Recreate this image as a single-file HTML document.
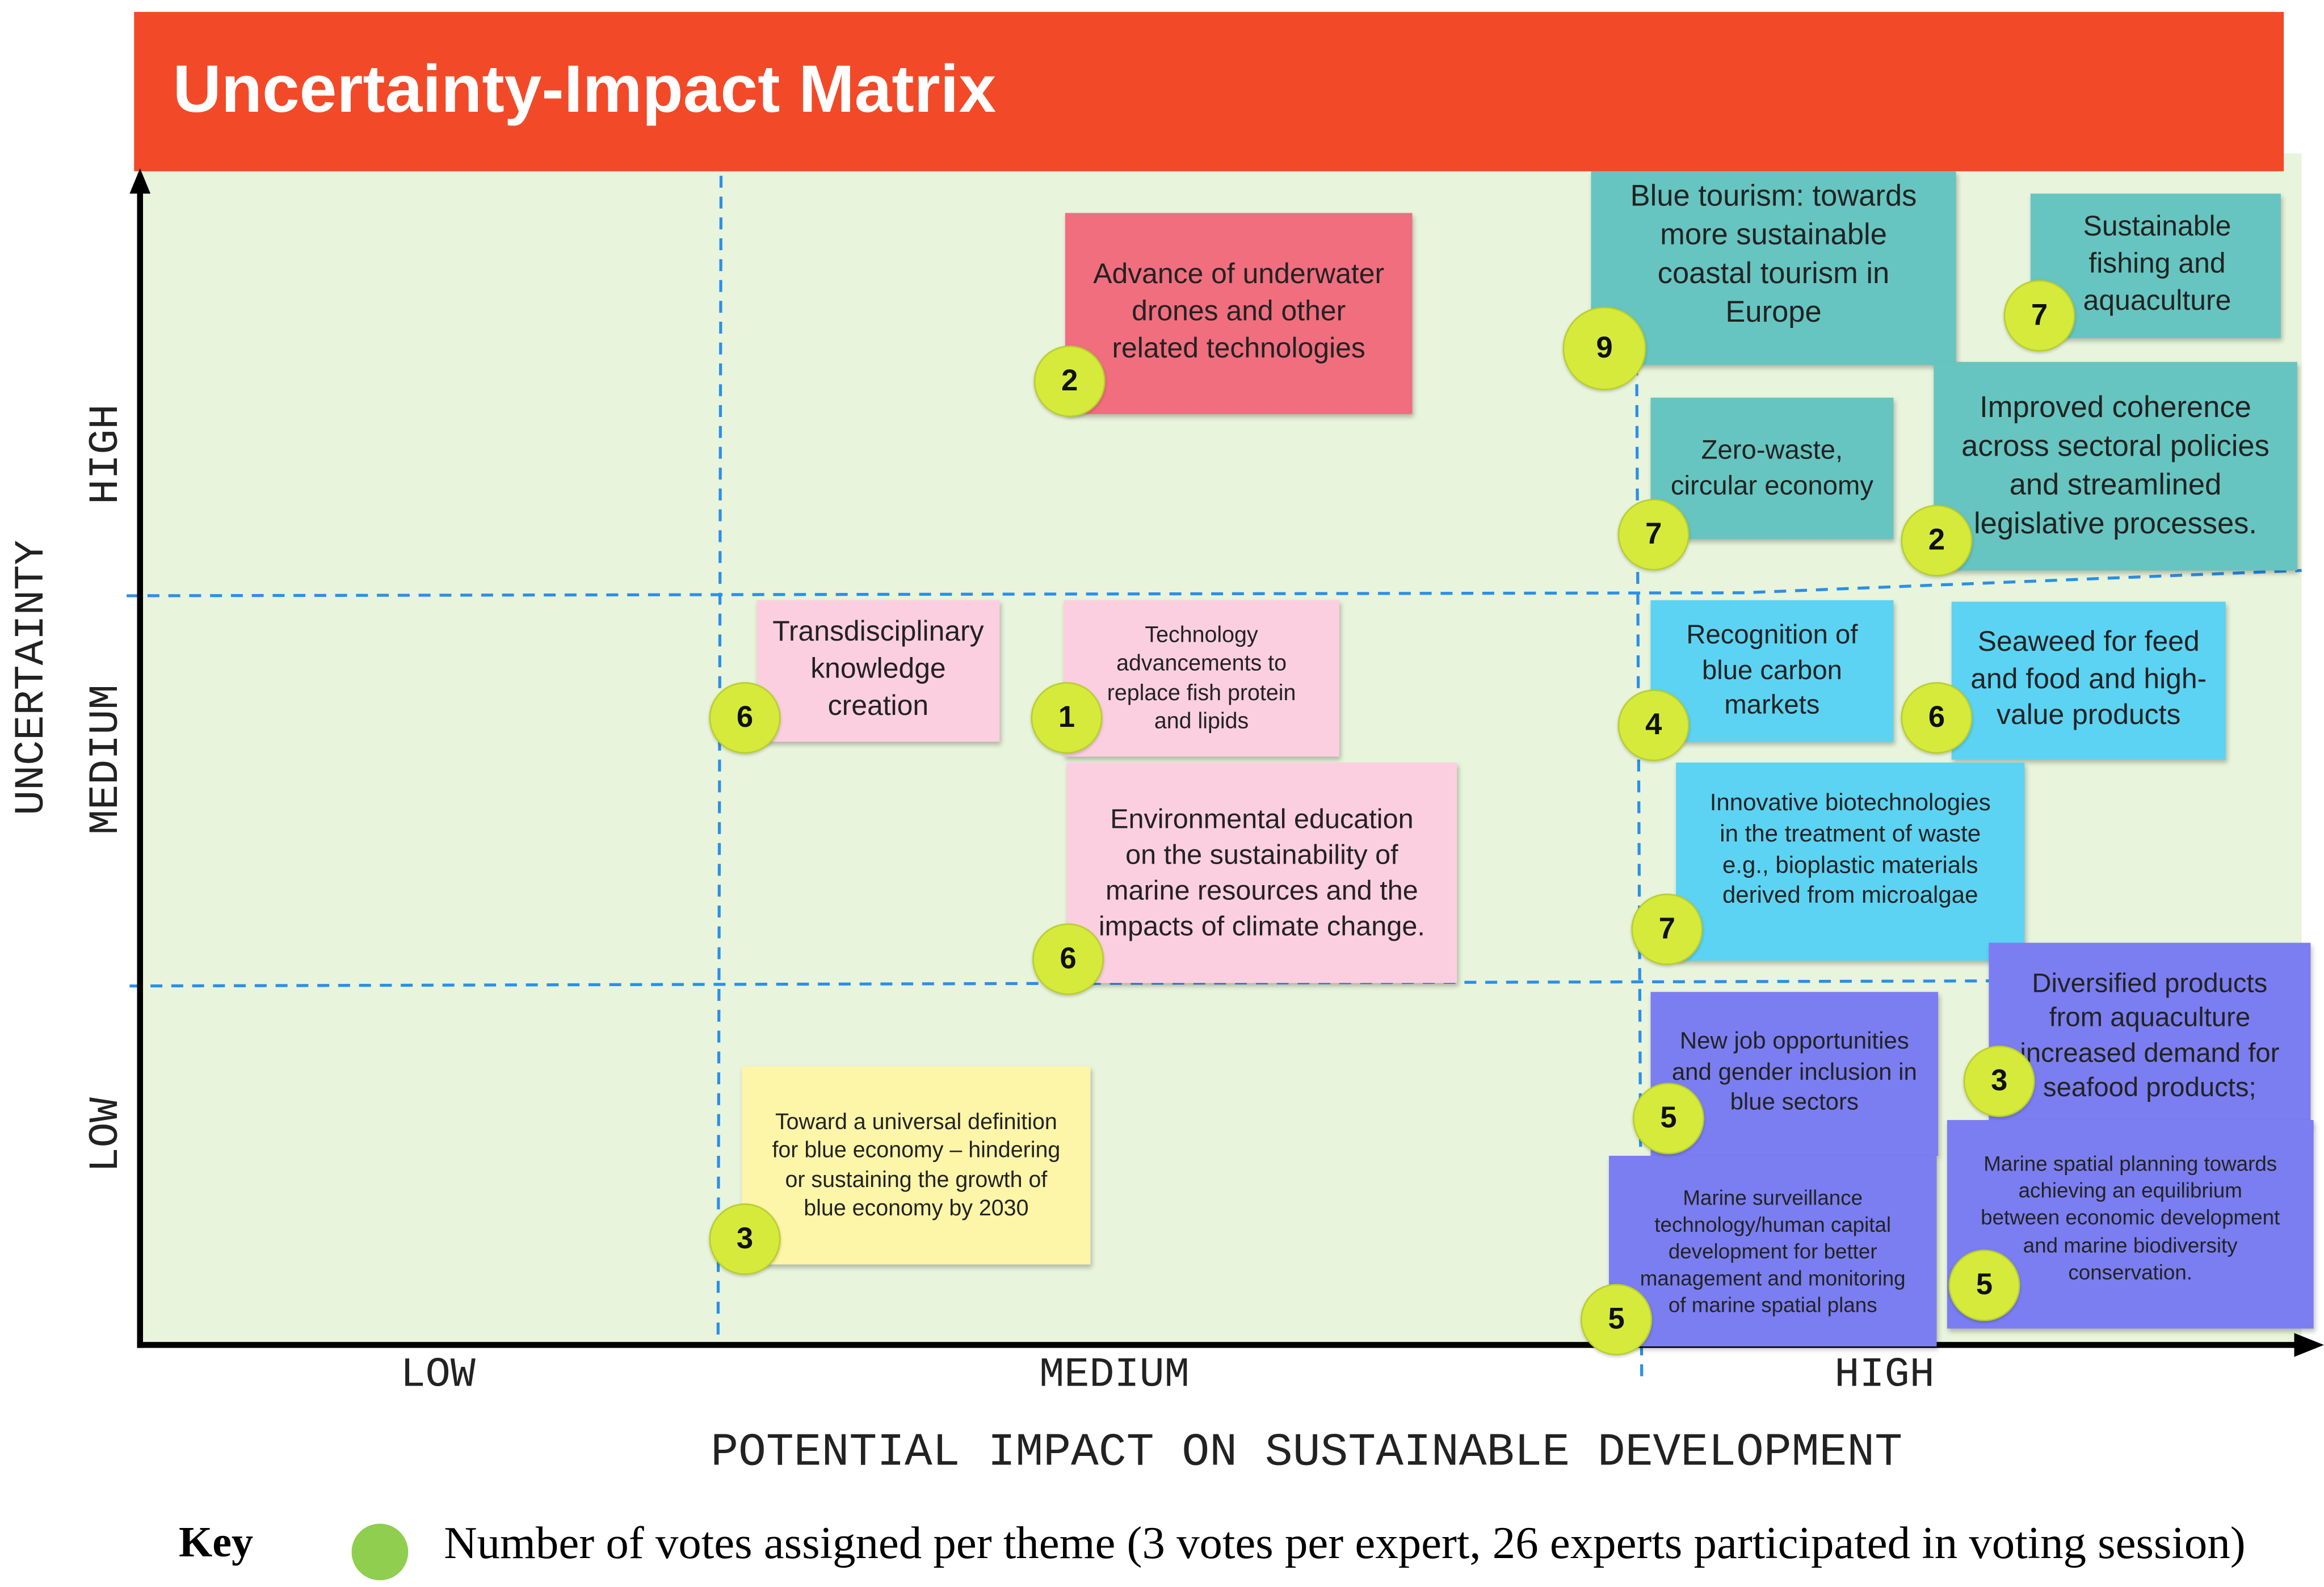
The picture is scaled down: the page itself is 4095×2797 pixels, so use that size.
<!DOCTYPE html>
<html><head><meta charset="utf-8">
<style>
html,body{margin:0;padding:0;background:#fff;}
#wrap{width:4095px;height:2797px;overflow:hidden;position:relative;}
#stage{position:absolute;left:0;top:0;width:1560px;height:1066px;transform:scale(2.625);transform-origin:0 0;font-family:"Liberation Sans",sans-serif;}
.note{position:absolute;display:flex;align-items:center;justify-content:center;text-align:center;color:#222;line-height:1.3;box-shadow:1px 2px 3px rgba(0,0,0,0.25);box-sizing:border-box;padding:2px;white-space:nowrap;}
.c{position:absolute;width:48px;height:48px;margin:-24px 0 0 -24px;border-radius:50%;background:#d6ea3c;border:1.5px solid #b8cf2a;box-sizing:border-box;display:flex;align-items:center;justify-content:center;font-weight:bold;font-size:20px;color:#111;box-shadow:0 1px 2px rgba(0,0,0,0.2);}
.ylab{position:absolute;font-family:"Liberation Mono",monospace;font-size:28px;color:#222;transform:translate(-50%,-50%) rotate(-90deg);white-space:nowrap;}
.xlab{position:absolute;font-family:"Liberation Mono",monospace;font-size:28px;color:#222;transform:translate(-50%,-50%);white-space:nowrap;}
.teal{background:#66c5c0}.red{background:#f06e7e}.pink{background:#fccfe0}.yel{background:#fdf5a8}.cyan{background:#5cd3f3}.blue{background:#7b7ef0}
</style></head><body>
<div id="wrap"><div id="stage">
<div style="position:absolute;left:95px;top:103px;width:1450px;height:800px;background:#e8f4dc;"></div>
<div style="position:absolute;left:90px;top:8px;width:1443px;height:107px;background:#f24a28;">
<div style="position:absolute;left:26px;top:26px;color:#fff;font-weight:bold;font-size:45px;white-space:nowrap;">Uncertainty-Impact Matrix</div></div>
<svg style="position:absolute;left:0;top:0" width="1560" height="1066">
<g stroke="#2b8fe8" stroke-width="2" stroke-dasharray="8,6" fill="none">
<line x1="484" y1="118" x2="482" y2="903"/>
<line x1="1098" y1="118" x2="1102" y2="925"/>
<polyline points="85,400 1170,398 1545,383"/>
<line x1="87" y1="662" x2="1545" y2="658"/>
</g>
<line x1="94" y1="125" x2="94" y2="905" stroke="#000" stroke-width="4"/>
<polygon points="94,113 87,130 101,130" fill="#000"/>
<line x1="92" y1="903" x2="1545" y2="903" stroke="#000" stroke-width="4"/>
<polygon points="1560,903 1540,895 1540,911" fill="#000"/>
</svg>
<div class="ylab" style="left:22px;top:455px;">UNCERTAINTY</div>
<div class="ylab" style="left:72px;top:305px;">HIGH</div>
<div class="ylab" style="left:72px;top:510px;">MEDIUM</div>
<div class="ylab" style="left:72px;top:762px;">LOW</div>
<div class="xlab" style="left:294px;top:924px;">LOW</div>
<div class="xlab" style="left:748px;top:924px;">MEDIUM</div>
<div class="xlab" style="left:1265px;top:924px;">HIGH</div>
<div class="xlab" style="left:877px;top:976px;font-size:31px;">POTENTIAL IMPACT ON SUSTAINABLE DEVELOPMENT</div>

<div class="note red" style="left:715px;top:143px;width:233px;height:135px;font-size:19px;">Advance of underwater<br>drones and other<br>related technologies</div>
<div class="note teal" style="left:1068px;top:115px;width:245px;height:130px;font-size:20px;align-items:flex-start;padding-top:4px;">Blue tourism: towards<br>more sustainable<br>coastal tourism in<br>Europe</div>
<div class="note teal" style="left:1363px;top:130px;width:168px;height:97px;font-size:19px;padding-left:4px;">Sustainable<br>fishing and<br>aquaculture</div>
<div class="note teal" style="left:1108px;top:267px;width:163px;height:95px;font-size:18px;">Zero-waste,<br>circular economy</div>
<div class="note teal" style="left:1298px;top:243px;width:244px;height:140px;font-size:20px;">Improved coherence<br>across sectoral policies<br>and streamlined<br>legislative processes.</div>
<div class="note pink" style="left:508px;top:403px;width:163px;height:95px;font-size:19px;">Transdisciplinary<br>knowledge<br>creation</div>
<div class="note pink" style="left:714px;top:403px;width:185px;height:105px;font-size:15px;">Technology<br>advancements to<br>replace fish protein<br>and lipids</div>
<div class="note pink" style="left:716px;top:512px;width:262px;height:148px;font-size:18.5px;">Environmental education<br>on the sustainability of<br>marine resources and the<br>impacts of climate change.</div>
<div class="note yel" style="left:498px;top:716px;width:234px;height:133px;font-size:15px;">Toward a universal definition<br>for blue economy – hindering<br>or sustaining the growth of<br>blue economy by 2030</div>
<div class="note cyan" style="left:1108px;top:403px;width:163px;height:95px;font-size:18px;">Recognition of<br>blue carbon<br>markets</div>
<div class="note cyan" style="left:1310px;top:404px;width:184px;height:106px;font-size:19px;">Seaweed for feed<br>and food and high-<br>value products</div>
<div class="note cyan" style="left:1125px;top:512px;width:234px;height:133px;font-size:16px;align-items:flex-start;padding-top:18px;">Innovative biotechnologies<br>in the treatment of waste<br>e.g., bioplastic materials<br>derived from microalgae</div>
<div class="note blue" style="left:1108px;top:666px;width:193px;height:110px;font-size:16px;">New job opportunities<br>and gender inclusion in<br>blue sectors</div>
<div class="note blue" style="left:1335px;top:633px;width:216px;height:125px;font-size:18px;">Diversified products<br>from aquaculture<br>increased demand for<br>seafood products;</div>
<div class="note blue" style="left:1080px;top:776px;width:220px;height:128px;font-size:14px;">Marine surveillance<br>technology/human capital<br>development for better<br>management and monitoring<br>of marine spatial plans</div>
<div class="note blue" style="left:1307px;top:752px;width:246px;height:140px;font-size:14px;align-items:flex-start;padding-top:20px;">Marine spatial planning towards<br>achieving an equilibrium<br>between economic development<br>and marine biodiversity<br>conservation.</div>

<div class="c" style="left:718px;top:256px;">2</div>
<div class="c" style="left:1077px;top:234px;width:56px;height:56px;margin:-28px 0 0 -28px;">9</div>
<div class="c" style="left:1369px;top:212px;">7</div>
<div class="c" style="left:1110px;top:359px;">7</div>
<div class="c" style="left:1300px;top:363px;">2</div>
<div class="c" style="left:500px;top:482px;">6</div>
<div class="c" style="left:716px;top:482px;">1</div>
<div class="c" style="left:717px;top:644px;">6</div>
<div class="c" style="left:500px;top:832px;">3</div>
<div class="c" style="left:1110px;top:487px;">4</div>
<div class="c" style="left:1300px;top:482px;">6</div>
<div class="c" style="left:1119px;top:624px;">7</div>
<div class="c" style="left:1120px;top:751px;">5</div>
<div class="c" style="left:1342px;top:726px;">3</div>
<div class="c" style="left:1085px;top:886px;">5</div>
<div class="c" style="left:1332px;top:863px;">5</div>

<div style="position:absolute;left:120px;top:1020px;font-family:'Liberation Serif',serif;font-weight:bold;font-size:29px;">Key</div>
<div style="position:absolute;left:236px;top:1023px;width:38px;height:38px;border-radius:50%;background:#8fce4f;"></div>
<div style="position:absolute;left:298px;top:1019px;font-family:'Liberation Serif',serif;font-size:30.8px;white-space:nowrap;">Number of votes assigned per theme (3 votes per expert, 26 experts participated in voting session)</div>
</div></div>
</body></html>
